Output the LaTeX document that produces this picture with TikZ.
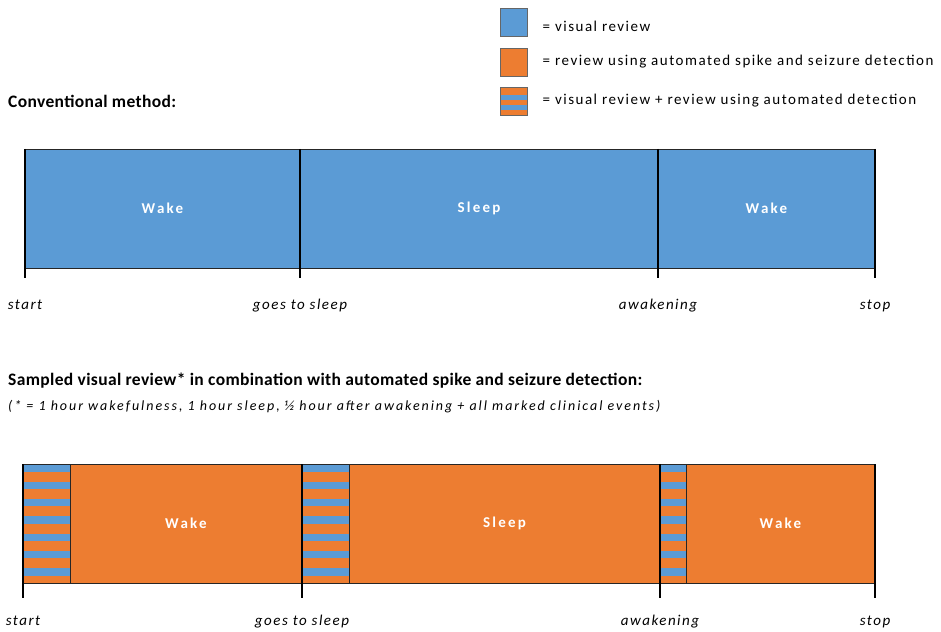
\documentclass[tikz,border=0pt]{standalone}
\usepackage{fontspec}
\setmainfont{Carlito}
\newfontfamily\spacedfont[LetterSpace=10]{Carlito}
\newfontfamily\notefont[LetterSpace=14]{Carlito}
\newfontfamily\barfont[LetterSpace=15]{Carlito}
\newfontfamily\headfont[LetterSpace=2]{Carlito}
\usetikzlibrary{positioning}
\definecolor{revblue}{HTML}{5B9BD5}
\definecolor{revorange}{HTML}{ED7D31}
\tikzset{
	seg/.style={draw=black!85, line width=0.8pt, anchor=north west, inner sep=0pt, outer sep=0pt,
		minimum height=119pt, text=white, font=\barfont\bfseries\fontsize{15}{17}\selectfont},
	% stripes: last index, period, offset of first stripe, stripe height
	mixed/.style n args={4}{fill=revorange, path picture={
		\foreach \k in {0,...,#1}
			\fill[revblue] ([yshift={-(\k*#2+#3)*1pt}]path picture bounding box.north west)
				rectangle ([yshift={-(\k*#2+#3+#4)*1pt}]path picture bounding box.north east);}},
	tick/.style={line width=1.8pt},
	when/.style={font=\spacedfont\itshape\fontsize{15}{17}\selectfont, anchor=north},
	heading/.style={font=\headfont\bfseries\fontsize{17.5}{20}\selectfont, anchor=west, inner sep=0pt},
	key/.style={draw=black!60, line width=0.6pt, minimum width=27pt, minimum height=28pt, inner sep=0pt, outer sep=0pt},
	keytext/.style={font=\spacedfont\fontsize{15}{17}\selectfont, anchor=west, inner sep=0pt}
}
\begin{document}
\begin{tikzpicture}[x=1pt, y=-1pt, node distance=18pt]
	\useasboundingbox (0,0) rectangle (941,631);
	% legend
	\node[key, fill=revblue] (kvis) at (514,22) {};
	\node[key, fill=revorange, below=12pt of kvis] (kauto) {};
	\node[key, mixed={1}{9.5}{8.5}{5}, below=11pt of kauto] (kmix) {};
	\node[keytext, right=15pt of kvis, yshift=-4pt] {= visual review};
	\node[keytext, right=15pt of kauto] {= review using automated spike and seizure detection};
	\node[keytext, right=15pt of kmix] {= visual review + review using automated detection};

	% conventional method
	\node[heading] (conv) at (8,101) {Conventional method:};
	\node[seg, fill=revblue, minimum width=275pt] (wakeA) at (25,149) {Wake};
	\node[seg, fill=revblue, minimum width=358pt] (sleepA) at (wakeA.north east) {Sleep};
	\node[seg, fill=revblue, minimum width=217pt] (wakeB) at (sleepA.north east) {Wake};
	\coordinate (a1) at ([yshift=-10pt]wakeA.south west);
	\coordinate (a2) at ([yshift=-10pt]sleepA.south west);
	\coordinate (a3) at ([yshift=-10pt]wakeB.south west);
	\coordinate (a4) at ([yshift=-10pt]wakeB.south east);
	\draw[tick] (wakeA.north west) -- (a1);
	\draw[tick] (sleepA.north west) -- (a2);
	\draw[tick] (wakeB.north west) -- (a3);
	\draw[tick] (wakeB.north east) -- (a4);
	\node[when, below=of a1] {start};
	\node[when, below=of a2] {goes to sleep};
	\node[when, below=of a3] {awakening};
	\node[when, below=of a4] {stop};

	% sampled review
	\node[heading] (samp) at (8,381) {Sampled visual review* in combination with automated spike and seizure detection:};
	\node[anchor=west, inner sep=0pt, font=\notefont\itshape\fontsize{14}{16}\selectfont] (note) at (8,407)
		{(* = 1 hour wakefulness,\ 1 hour sleep,\ \textonehalf\ hour after awakening + all marked clinical events)};
	\node[seg, mixed={6}{17.3}{0.3}{7.5}, minimum width=47pt] (mixA) at (23,464) {};
	\node[seg, fill=revorange, minimum width=232pt] (wakeC) at (mixA.north east) {Wake};
	\node[seg, mixed={6}{17.3}{0.3}{7.5}, minimum width=47pt] (mixB) at (wakeC.north east) {};
	\node[seg, fill=revorange, minimum width=311pt] (sleepB) at (mixB.north east) {Sleep};
	\node[seg, mixed={6}{17.3}{0.3}{7.5}, minimum width=26pt] (mixC) at (sleepB.north east) {};
	\node[seg, fill=revorange, minimum width=189pt] (wakeD) at (mixC.north east) {Wake};
	\coordinate (b1) at ([yshift=-15pt]mixA.south west);
	\coordinate (b2) at ([yshift=-15pt]mixB.south west);
	\coordinate (b3) at ([yshift=-15pt]mixC.south west);
	\coordinate (b4) at ([yshift=-15pt]wakeD.south east);
	\draw[tick] (mixA.north west) -- (b1);
	\draw[tick] (mixB.north west) -- (b2);
	\draw[tick] (mixC.north west) -- (b3);
	\draw[tick] (wakeD.north east) -- (b4);
	\node[when, below=14pt of b1] {start};
	\node[when, below=14pt of b2] {goes to sleep};
	\node[when, below=14pt of b3] {awakening};
	\node[when, below=14pt of b4] {stop};
\end{tikzpicture}
\end{document}
